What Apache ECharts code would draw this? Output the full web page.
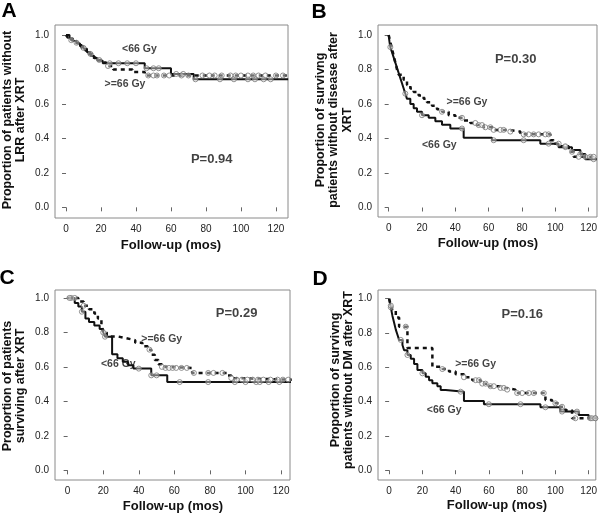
<!DOCTYPE html>
<html>
<head>
<meta charset="utf-8">
<script src="https://cdn.jsdelivr.net/npm/echarts@6/dist/echarts.min.js"></script>
<style>
  html, body { margin: 0; padding: 0; background: #fff; }
  #main { width: 600px; height: 515px; }
</style>
</head>
<body>
<div id="main"></div>
<script>
// tick labels shared by all panels
var xTicks = [0, 20, 40, 60, 80, 100, 120];
var yTicks = [0, 0.2, 0.4, 0.6, 0.8, 1.0];

// A: LRR-free, <66 Gy (solid) and >=66 Gy (dashed)
var aLowT = [0, 2, 4, 6, 8, 10, 12, 14, 16, 18, 21, 45, 60, 73, 127];
var aLowS = [1.0, 0.98, 0.965, 0.95, 0.935, 0.92, 0.90, 0.88, 0.865, 0.85, 0.836, 0.807, 0.774, 0.743, 0.743];
var aHighT = [0, 1, 3, 5, 7, 9, 11, 13, 15, 17, 20, 23, 27, 38, 45, 127];
var aHighS = [1.0, 0.985, 0.97, 0.955, 0.94, 0.925, 0.91, 0.89, 0.87, 0.855, 0.84, 0.82, 0.80, 0.785, 0.765, 0.765];
var aLowCens = [25, 30, 35, 40, 46, 50, 53, 63, 67, 74, 88, 96, 104, 108, 113, 117];
var aHighCens = [3, 6, 10, 14, 19, 24, 47, 50, 52, 56, 59, 66, 70, 78, 82, 85, 89, 94, 97, 100, 104, 107, 110, 114, 120, 124];

// B: disease-free survival
var bLowT = [0, 0.5, 1, 2, 3, 4, 5, 6, 7, 8, 9, 10, 11, 13, 15, 17, 20, 24, 28, 32, 37, 45, 62, 91, 102, 110, 115, 118, 125];
var bLowS = [1.0, 0.96, 0.93, 0.90, 0.87, 0.84, 0.81, 0.78, 0.75, 0.72, 0.69, 0.66, 0.63, 0.60, 0.575, 0.555, 0.535, 0.52, 0.50, 0.48, 0.458, 0.405, 0.39, 0.37, 0.35, 0.333, 0.31, 0.28, 0.28];
var bHighT = [0, 1, 2, 3, 4, 5, 6, 9, 11, 13, 15, 18, 21, 23, 26, 29, 32, 36, 40, 45, 49, 53, 57, 63, 71, 79, 97, 99, 103, 108, 111, 125];
var bHighS = [1.0, 0.96, 0.92, 0.88, 0.84, 0.80, 0.77, 0.74, 0.71, 0.69, 0.67, 0.65, 0.63, 0.61, 0.59, 0.57, 0.555, 0.535, 0.52, 0.505, 0.49, 0.478, 0.465, 0.45, 0.44, 0.424, 0.39, 0.37, 0.355, 0.323, 0.294, 0.294];
var bLowCens = [1, 10, 20, 44, 63, 81, 96, 106, 115, 123];
var bHighCens = [32, 44, 52, 54, 56, 58, 61, 63, 67, 69, 73, 81, 84, 87, 90, 94, 96, 102, 106, 110, 114, 118, 121, 123];

// C: overall survival
var cLowT = [0, 4, 6, 8, 10, 12, 15, 18, 20, 21, 25, 28, 31, 34, 37, 47, 56, 126];
var cLowS = [1.0, 0.97, 0.95, 0.92, 0.88, 0.86, 0.84, 0.82, 0.80, 0.775, 0.673, 0.65, 0.63, 0.61, 0.59, 0.551, 0.512, 0.512];
var cHighT = [0, 6, 9, 12, 15, 17, 19, 20, 22, 28, 33, 38, 42, 45, 47, 49, 51, 53, 55, 70, 90, 92, 93, 126];
var cHighS = [1.0, 0.98, 0.955, 0.935, 0.91, 0.88, 0.84, 0.80, 0.777, 0.766, 0.755, 0.74, 0.72, 0.70, 0.67, 0.64, 0.615, 0.60, 0.594, 0.565, 0.55, 0.535, 0.526, 0.526];
var cLowCens = [2, 8, 21, 40, 47, 50, 63, 79, 94, 100, 106, 108, 113, 119];
var cHighCens = [1, 4, 9, 20, 46, 53, 55, 57, 59, 61, 64, 67, 71, 79, 82, 87, 92, 95, 98, 101, 104, 107, 110, 114, 118, 121, 124];

// D: DM-free survival
var dLowT = [0, 1, 2, 3, 4, 5, 6, 8, 9, 11, 13, 15, 17, 20, 22, 24, 26, 29, 31, 34, 45, 57, 91, 103, 114, 120, 125];
var dLowS = [1.0, 0.95, 0.9, 0.86, 0.82, 0.79, 0.76, 0.73, 0.70, 0.672, 0.65, 0.62, 0.585, 0.565, 0.545, 0.525, 0.507, 0.49, 0.468, 0.458, 0.404, 0.385, 0.367, 0.342, 0.322, 0.303, 0.303];
var dHighT = [0, 1, 2, 4, 6, 11, 26, 32, 36, 40, 45, 50, 55, 60, 66, 70, 76, 94, 98, 103, 106, 110, 125];
var dHighS = [1.0, 0.96, 0.93, 0.89, 0.837, 0.713, 0.604, 0.59, 0.575, 0.56, 0.542, 0.525, 0.505, 0.49, 0.48, 0.47, 0.45, 0.41, 0.39, 0.37, 0.35, 0.303, 0.303];
var dLowCens = [1, 7, 11, 20, 43, 60, 79, 94, 104, 113, 121, 124];
var dHighCens = [1, 10, 32, 45, 52, 54, 56, 58, 61, 63, 67, 69, 71, 77, 80, 84, 87, 93, 100, 104, 112, 122, 124];

var FONT = '"Liberation Sans", Arial, sans-serif';

var panels = [
    {
        letter: 'A', letterPos: [9, 11],
        grid: { left: 55, top: 25, width: 233, height: 193 },
        x: [-6.3, 126.9], y: [-0.062, 1.058],
        low: [aLowT, aLowS, aLowCens], high: [aHighT, aHighS, aHighCens],
        yTitle: 'Proportion of patients without\nLRR after XRT', yTitlePos: [14, 120],
        xTitlePos: [171, 245],
        notes: [[42, 0.917, '<66 Gy', 10.5], [33.7, 0.714, '>=66 Gy', 10.5], [83.3, 0.28, 'P=0.94', 13]]
    },
    {
        letter: 'B', letterPos: [319, 12],
        grid: { left: 378, top: 25, width: 220, height: 192 },
        x: [-6.4, 125], y: [-0.055, 1.058],
        low: [bLowT, bLowS, bLowCens], high: [bHighT, bHighS, bHighCens],
        yTitle: 'Proportion of survivng\npatients without disease after\nXRT', yTitlePos: [334, 120],
        xTitlePos: [488, 243],
        notes: [[47, 0.613, '>=66 Gy', 10.5], [30.4, 0.362, '<66 Gy', 10.5], [76.2, 0.86, 'P=0.30', 13]]
    },
    {
        letter: 'C', letterPos: [7, 278],
        grid: { left: 55, top: 290, width: 235, height: 190 },
        x: [-7.1, 125], y: [-0.056, 1.046],
        low: [cLowT, cLowS, cLowCens], high: [cHighT, cHighS, cHighCens],
        yTitle: 'Proportion of patients\nsurviving after XRT', yTitlePos: [14, 386],
        xTitlePos: [173, 506],
        notes: [[52.9, 0.762, '>=66 Gy', 10.5], [28.5, 0.617, '<66 Gy', 10.5], [95, 0.913, 'P=0.29', 13]]
    },
    {
        letter: 'D', letterPos: [320, 279],
        grid: { left: 378, top: 290, width: 220, height: 190 },
        x: [-6.7, 124.3], y: [-0.057, 1.051],
        low: [dLowT, dLowS, dLowCens], high: [dHighT, dHighS, dHighCens],
        yTitle: 'Proportion of survivng\npatients without DM after XRT', yTitlePos: [342, 380],
        xTitlePos: [497, 505],
        notes: [[52, 0.62, '>=66 Gy', 10.5], [33.1, 0.353, '<66 Gy', 10.5], [80.1, 0.907, 'P=0.16', 13]]
    }
];

// survival value at time t from a step curve
function survAt(T, S, t) {
    var v = S[0];
    for (var i = 0; i < T.length; i++) {
        if (T[i] <= t) v = S[i];
    }
    return v;
}

function pairs(T, S) {
    return T.map(function (t, i) { return [t, S[i]]; });
}

var grids = [], xAxes = [], yAxes = [], series = [], graphics = [];

panels.forEach(function (p, k) {
    grids.push(Object.assign({ show: true, borderColor: '#8a8a8a', borderWidth: 1 }, p.grid));

    xAxes.push({
        gridIndex: k, type: 'value', min: p.x[0], max: p.x[1],
        axisLine: { show: false },
        splitLine: { show: false },
        axisTick: { show: true, customValues: xTicks, length: 4, lineStyle: { color: '#666' } },
        axisLabel: { customValues: xTicks, fontSize: 10, color: '#222', margin: 6, fontFamily: FONT }
    });
    yAxes.push({
        gridIndex: k, type: 'value', min: p.y[0], max: p.y[1],
        axisLine: { show: false },
        splitLine: { show: false },
        axisTick: { show: true, customValues: yTicks, length: 4, lineStyle: { color: '#666' } },
        axisLabel: {
            customValues: yTicks, fontSize: 10, color: '#222', margin: 6, fontFamily: FONT,
            formatter: function (v) { return v.toFixed(1); }
        }
    });

    // <66 Gy solid
    series.push({
        type: 'line', xAxisIndex: k, yAxisIndex: k, step: 'end', symbol: 'none',
        data: pairs(p.low[0], p.low[1]),
        lineStyle: { color: '#111', width: 2 }, z: 3
    });
    // >=66 Gy dashed
    series.push({
        type: 'line', xAxisIndex: k, yAxisIndex: k, step: 'end', symbol: 'none',
        data: pairs(p.high[0], p.high[1]),
        lineStyle: { color: '#111', width: 2.5, type: [4, 4] }, z: 3
    });
    // censor marks
    [p.low, p.high].forEach(function (c) {
        series.push({
            type: 'scatter', xAxisIndex: k, yAxisIndex: k, symbol: 'circle', symbolSize: 5,
            data: c[2].map(function (t) { return [t, survAt(c[0], c[1], t)]; }),
            itemStyle: { color: 'rgba(255,255,255,0.5)', borderColor: '#777', borderWidth: 1 },
            z: 4
        });
    });
    // curve labels and p value
    series.push({
        type: 'scatter', xAxisIndex: k, yAxisIndex: k, symbolSize: 1,
        itemStyle: { color: 'rgba(0,0,0,0)' },
        data: p.notes.map(function (n) {
            return {
                value: [n[0], n[1]],
                label: {
                    show: true, position: 'inside', formatter: n[2],
                    fontSize: n[3], fontWeight: 'bold', color: '#111', fontFamily: FONT
                }
            };
        }),
        z: 5, silent: true
    });

    graphics.push({
        type: 'text', x: p.letterPos[0], y: p.letterPos[1],
        style: { text: p.letter, font: 'bold 21px ' + FONT, fill: '#000', textAlign: 'center', textVerticalAlign: 'middle' }
    });
    graphics.push({
        type: 'text', x: p.yTitlePos[0], y: p.yTitlePos[1], rotation: Math.PI / 2,
        style: { text: p.yTitle, font: 'bold 12.5px ' + FONT, fill: '#111', textAlign: 'center', textVerticalAlign: 'middle', lineHeight: 13.5 }
    });
    graphics.push({
        type: 'text', x: p.xTitlePos[0], y: p.xTitlePos[1],
        style: { text: 'Follow-up (mos)', font: 'bold 13px ' + FONT, fill: '#111', textAlign: 'center', textVerticalAlign: 'middle' }
    });
});

var chart = echarts.init(document.getElementById('main'), null, { renderer: 'canvas' });
chart.setOption({
    animation: false,
    backgroundColor: '#fff',
    grid: grids,
    xAxis: xAxes,
    yAxis: yAxes,
    series: series,
    graphic: graphics
});
</script>
</body>
</html>
